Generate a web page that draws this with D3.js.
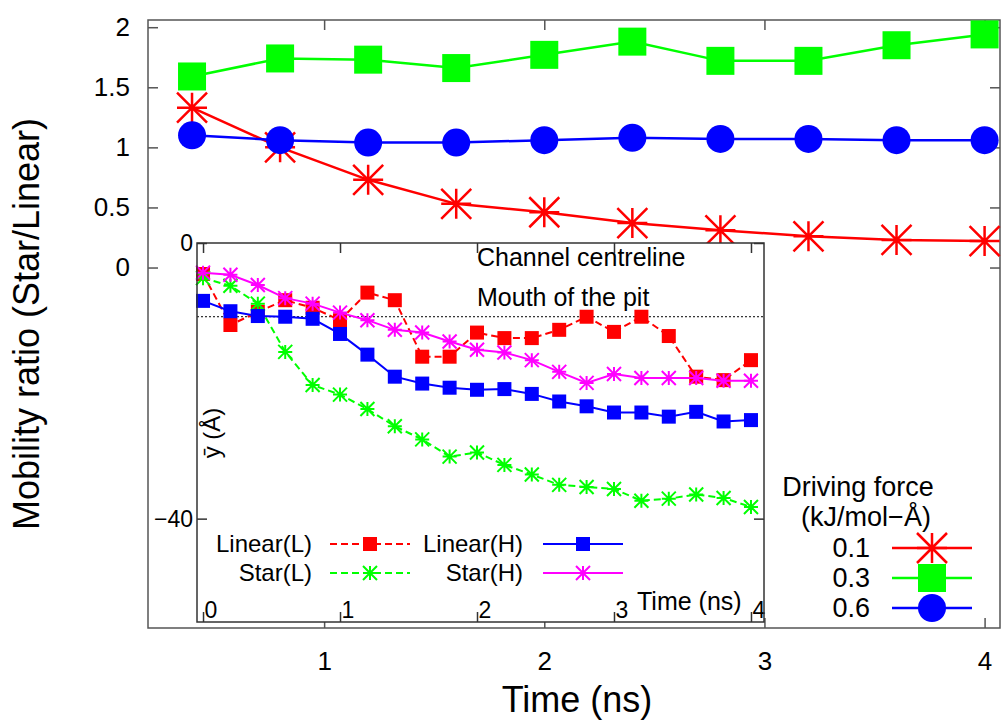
<!DOCTYPE html>
<html>
<head>
<meta charset="utf-8">
<script src="https://cdnjs.cloudflare.com/ajax/libs/d3/7.8.5/d3.min.js"></script>
<style>
    body { margin: 0; background: #fff; }
    svg { display: block; font-family: "Liberation Sans", Arial, sans-serif; }
</style>
</head>
<body>
<script>
// main plot: mobility ratio for each driving force
const mainTimes = [0.4, 0.8, 1.2, 1.6, 2.0, 2.4, 2.8, 3.2, 3.6, 4.0];
const ratioF01 = [1.33, 1.00, 0.73, 0.53, 0.46, 0.37, 0.31, 0.26, 0.23, 0.22];
const ratioF03 = [1.59, 1.74, 1.73, 1.66, 1.77, 1.88, 1.72, 1.72, 1.85, 1.94];
const ratioF06 = [1.10, 1.06, 1.04, 1.04, 1.06, 1.08, 1.07, 1.07, 1.06, 1.06];
const mainXTicks = [1, 2, 3, 4];
const mainYTicks = [0, 0.5, 1, 1.5, 2];
const forceLabels = ['0.1', '0.3', '0.6'];

// inset: mean y position of the polymer
const insetTimes = [0, 0.2, 0.4, 0.6, 0.8, 1.0, 1.2, 1.4, 1.6, 1.8, 2.0,
    2.2, 2.4, 2.6, 2.8, 3.0, 3.2, 3.4, 3.6, 3.8, 4.0];
const linearL = [-4.5, -11.9, -10.0, -8.3, -9.4, -11.2, -7.2, -8.3, -16.5, -16.5, -13.0,
    -13.8, -13.8, -12.6, -10.7, -12.9, -10.7, -13.5, -19.4, -19.9, -17.0];
const starL = [-5.1, -6.2, -8.8, -15.8, -20.6, -22.0, -24.1, -26.6, -28.5, -31.0, -30.4,
    -32.2, -33.6, -35.1, -35.4, -35.7, -37.4, -37.1, -36.5, -37.0, -38.3];
const linearH = [-8.4, -9.9, -10.6, -10.7, -11.0, -13.2, -16.2, -19.4, -20.4, -21.0, -21.3,
    -21.2, -21.9, -23.0, -23.7, -24.6, -24.6, -25.2, -24.5, -25.9, -25.7];
const starH = [-4.3, -4.6, -6.1, -8.0, -8.8, -10.1, -11.2, -12.6, -13.0, -14.3, -15.5,
    -15.9, -17.0, -18.7, -20.3, -19.0, -19.6, -19.6, -19.6, -20.0, -20.0];
const insetXTicks = [0, 1, 2, 3, 4];
const insetYTicks = [0, -40];
const mouthOfPit = -10.7;

class MobilityChart {
    constructor() {
        this.svg = this.createCanvas();
        // main axes box
        this.x = d3.scaleLinear().domain([0.2, 4.07]).range([148, 1000]);
        this.y = d3.scaleLinear().domain([-3, 2.06]).range([628, 20]);
        // inset axes box
        this.ix = d3.scaleLinear().domain([-0.044, 4.095]).range([197, 764]);
        this.iy = d3.scaleLinear().domain([-55, 0]).range([622, 243]);
    }

    createCanvas() {
        return d3.select('body').append('svg')
            .attr('width', 1002)
            .attr('height', 722);
    }

    drawMarker(g, type, cx, cy, size, color) {
        // size is the full width of the symbol
        let h = size / 2;
        if (type === 'square') {
            g.append('rect')
                .attr('x', cx - h).attr('y', cy - h)
                .attr('width', size).attr('height', size)
                .style('fill', color);
        } else if (type === 'circle') {
            g.append('circle')
                .attr('cx', cx).attr('cy', cy).attr('r', h)
                .style('fill', color);
        } else {
            // gnuplot style star: plus and cross together
            g.append('path')
                .attr('d', `M${cx - h},${cy}L${cx + h},${cy}M${cx},${cy - h}L${cx},${cy + h}` +
                    `M${cx - h},${cy - h}L${cx + h},${cy + h}M${cx - h},${cy + h}L${cx + h},${cy - h}`)
                .style('stroke', color)
                .style('stroke-width', size > 20 ? 2.5 : 2)
                .style('fill', 'none');
        }
    }

    drawSeries(xs, ys, xScale, yScale, opts) {
        let g = this.svg.append('g');
        let line = d3.line().x((d, i) => xScale(xs[i])).y(d => yScale(d));
        g.append('path')
            .datum(ys)
            .attr('d', line)
            .style('fill', 'none')
            .style('stroke', opts.color)
            .style('stroke-width', opts.width)
            .style('stroke-dasharray', opts.dash || null);
        ys.forEach((v, i) => {
            this.drawMarker(g, opts.marker, xScale(xs[i]), yScale(v), opts.size, opts.color);
        });
    }

    /************************* MAIN PLOT ************************************/

    drawMainAxes() {
        let svg = this.svg;
        let frame = '#555';

        let left = svg.append('g').attr('transform', 'translate(148,0)')
            .call(d3.axisLeft(this.y).tickValues(mainYTicks).tickSize(-10).tickPadding(18)
                .tickFormat(d3.format('~g')));
        let right = svg.append('g').attr('transform', 'translate(1000,0)')
            .call(d3.axisRight(this.y).tickValues(mainYTicks).tickSize(-10).tickFormat(''));
        let bottom = svg.append('g').attr('transform', 'translate(0,628)')
            .call(d3.axisBottom(this.x).tickValues(mainXTicks).tickSize(-10).tickPadding(24)
                .tickFormat(d3.format('d')));
        let top = svg.append('g').attr('transform', 'translate(0,20)')
            .call(d3.axisTop(this.x).tickValues(mainXTicks).tickSize(-10).tickFormat(''));

        [left, right, bottom, top].forEach(a => {
            a.select('.domain').remove();
            a.selectAll('line').style('stroke', frame).style('stroke-width', 1.5);
            a.selectAll('text').style('font-size', '26px').style('fill', '#000');
        });

        svg.append('rect')
            .attr('x', 148).attr('y', 20)
            .attr('width', 852).attr('height', 608)
            .style('fill', 'none')
            .style('stroke', frame)
            .style('stroke-width', 1.5);

        // axis titles
        svg.append('text')
            .attr('x', 577).attr('y', 712)
            .attr('text-anchor', 'middle')
            .style('font-size', '36px')
            .text('Time (ns)');
        svg.append('text')
            .attr('transform', 'translate(39,324) rotate(-90)')
            .attr('text-anchor', 'middle')
            .style('font-size', '36px')
            .text('Mobility ratio (Star/Linear)');
    }

    drawMainSeries() {
        this.drawSeries(mainTimes, ratioF01, this.x, this.y,
            { color: '#ff0000', width: 2.5, marker: 'star', size: 30 });
        this.drawSeries(mainTimes, ratioF03, this.x, this.y,
            { color: '#00ff00', width: 2.5, marker: 'square', size: 28 });
        this.drawSeries(mainTimes, ratioF06, this.x, this.y,
            { color: '#0000ff', width: 2.5, marker: 'circle', size: 28 });
    }

    drawMainLegend() {
        let svg = this.svg;
        svg.append('text')
            .attr('x', 858).attr('y', 496)
            .attr('text-anchor', 'middle')
            .style('font-size', '27px')
            .text('Driving force');
        svg.append('text')
            .attr('x', 866).attr('y', 526)
            .attr('text-anchor', 'middle')
            .style('font-size', '27px')
            .text('(kJ/mol\u2212Å)');

        let styles = [
            { color: '#ff0000', marker: 'star', size: 30 },
            { color: '#00ff00', marker: 'square', size: 28 },
            { color: '#0000ff', marker: 'circle', size: 28 }
        ];
        forceLabels.forEach((label, i) => {
            let cy = 548 + i * 30;
            let g = svg.append('g');
            g.append('text')
                .attr('x', 870).attr('y', cy + 9)
                .attr('text-anchor', 'end')
                .style('font-size', '27px')
                .text(label);
            g.append('line')
                .attr('x1', 892).attr('x2', 972)
                .attr('y1', cy).attr('y2', cy)
                .style('stroke', styles[i].color)
                .style('stroke-width', 2.5);
            this.drawMarker(g, styles[i].marker, 932, cy, styles[i].size, styles[i].color);
        });
    }

    /************************* INSET ************************************/

    drawInset() {
        let svg = this.svg;
        let frame = '#333';

        // white box hides the main plot underneath
        svg.append('rect')
            .attr('x', 197).attr('y', 243)
            .attr('width', 567).attr('height', 379)
            .style('fill', '#fff');

        // mouth of the pit line
        svg.append('line')
            .attr('x1', 197).attr('x2', 764)
            .attr('y1', this.iy(mouthOfPit)).attr('y2', this.iy(mouthOfPit))
            .style('stroke', '#000')
            .style('stroke-width', 1)
            .style('stroke-dasharray', '2,2');

        svg.append('text')
            .attr('x', 477).attr('y', 266)
            .style('font-size', '25px')
            .text('Channel centreline');
        svg.append('text')
            .attr('x', 477).attr('y', 306)
            .style('font-size', '25px')
            .text('Mouth of the pit');

        this.drawSeries(insetTimes, linearL, this.ix, this.iy,
            { color: '#ff0000', width: 2, dash: '7,4', marker: 'square', size: 14 });
        this.drawSeries(insetTimes, starL, this.ix, this.iy,
            { color: '#00ff00', width: 2, dash: '7,4', marker: 'star', size: 14 });
        this.drawSeries(insetTimes, linearH, this.ix, this.iy,
            { color: '#0000ff', width: 2, marker: 'square', size: 14 });
        this.drawSeries(insetTimes, starH, this.ix, this.iy,
            { color: '#ff00ff', width: 2, marker: 'star', size: 14 });

        // ticks, labels sit inside the box at the bottom
        let bottom = svg.append('g').attr('transform', 'translate(0,622)')
            .call(d3.axisBottom(this.ix).tickValues(insetXTicks).tickSize(-10).tickFormat(d3.format('d')));
        bottom.selectAll('text')
            .attr('text-anchor', 'start')
            .attr('x', 1)
            .attr('y', -4)
            .attr('dy', null);
        let top = svg.append('g').attr('transform', 'translate(0,243)')
            .call(d3.axisTop(this.ix).tickValues(insetXTicks).tickSize(-10).tickFormat(''));
        let left = svg.append('g').attr('transform', 'translate(197,0)')
            .call(d3.axisLeft(this.iy).tickValues(insetYTicks).tickSize(-10).tickPadding(4)
                .tickFormat(d3.format('d')));
        let right = svg.append('g').attr('transform', 'translate(764,0)')
            .call(d3.axisRight(this.iy).tickValues(insetYTicks).tickSize(-10).tickFormat(''));

        [bottom, top, left, right].forEach(a => {
            a.select('.domain').remove();
            a.selectAll('line').style('stroke', frame).style('stroke-width', 1.5);
            a.selectAll('text').style('font-size', '23px').style('fill', '#000');
        });

        svg.append('rect')
            .attr('x', 197).attr('y', 243)
            .attr('width', 567).attr('height', 379)
            .style('fill', 'none')
            .style('stroke', frame)
            .style('stroke-width', 1.5);

        svg.append('text')
            .attr('x', 637).attr('y', 610)
            .style('font-size', '25px')
            .text('Time (ns)');
        svg.append('text')
            .attr('transform', 'translate(220,433) rotate(-90)')
            .attr('text-anchor', 'middle')
            .style('font-size', '24px')
            .text('ȳ (Å)');
    }

    drawInsetLegend() {
        let svg = this.svg;
        let entries = [
            { label: 'Linear(L)', color: '#ff0000', dash: '7,4', marker: 'square', tx: 312, lx: 330, cy: 544 },
            { label: 'Star(L)', color: '#00ff00', dash: '7,4', marker: 'star', tx: 312, lx: 330, cy: 573 },
            { label: 'Linear(H)', color: '#0000ff', dash: null, marker: 'square', tx: 523, lx: 543, cy: 544 },
            { label: 'Star(H)', color: '#ff00ff', dash: null, marker: 'star', tx: 523, lx: 543, cy: 573 }
        ];
        entries.forEach(e => {
            let g = svg.append('g');
            g.append('text')
                .attr('x', e.tx).attr('y', e.cy + 8)
                .attr('text-anchor', 'end')
                .style('font-size', '24px')
                .text(e.label);
            g.append('line')
                .attr('x1', e.lx).attr('x2', e.lx + 80)
                .attr('y1', e.cy).attr('y2', e.cy)
                .style('stroke', e.color)
                .style('stroke-width', 2)
                .style('stroke-dasharray', e.dash);
            this.drawMarker(g, e.marker, e.lx + 40, e.cy, 14, e.color);
        });
    }
}

let chart = new MobilityChart();
chart.drawMainAxes();
chart.drawMainSeries();
chart.drawMainLegend();
chart.drawInset();
chart.drawInsetLegend();
</script>
</body>
</html>
